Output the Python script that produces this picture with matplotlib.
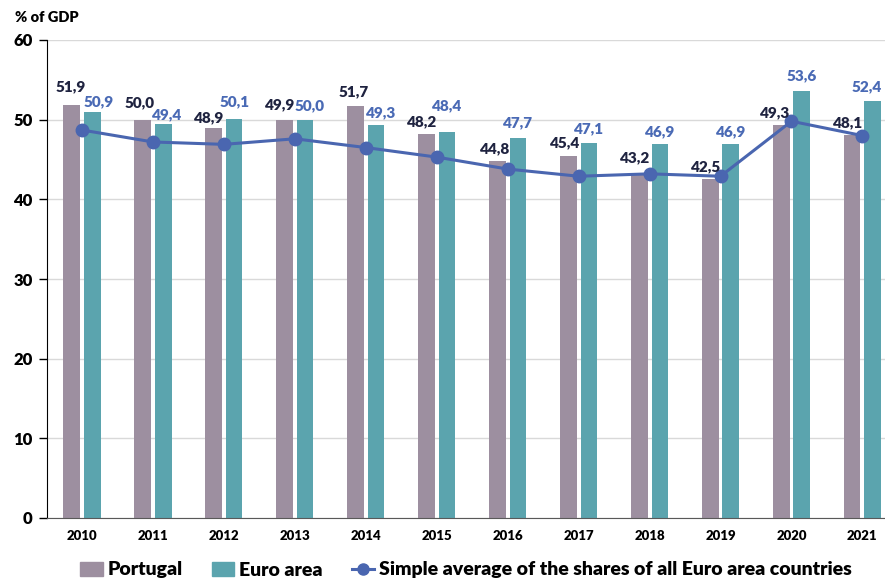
import matplotlib.pyplot as plt
import matplotlib.lines as mlines
import matplotlib.patches as mpatches
import numpy as np

plt.rcParams['font.family'] = ['Lato', 'DejaVu Sans']
plt.rcParams['font.weight'] = 'bold'

years = ['2010', '2011', '2012', '2013', '2014', '2015',
         '2016', '2017', '2018', '2019', '2020', '2021']
portugal = [51.9, 50.0, 48.9, 49.9, 51.7, 48.2, 44.8, 45.4, 43.2, 42.5, 49.3, 48.1]
euro_area = [50.9, 49.4, 50.1, 50.0, 49.3, 48.4, 47.7, 47.1, 46.9, 46.9, 53.6, 52.4]
simple_avg = [48.7, 47.2, 46.9, 47.6, 46.5, 45.3, 43.8, 42.9, 43.2, 42.9, 49.8, 48.0]

# label nudges in points, so value labels sit clear of each other and the line
pt_dx = [-0.5, -2, -3, -3.5, -1, -3, -2, -2, -3, -3, -4.5, -3]
pt_dy = [13, 12, 8, 11, 10, 9, 9, 10, 11.5, 9, 9, 9]
ea_dx = [4.5, 3, 0, 3.5, 3.5, 0, 0, 0, 0, 0, 0, -4]
ea_dy = [8, 7, 12, 10, 9, 19.5, 11, 10, 9, 9, 11, 10]

c_pt = '#9d8fa0'
c_ea = '#5ba4ae'
c_avg = '#4a66b0'
c_pt_lab = '#1f2340'
c_ea_lab = '#4a6ab5'

fig = plt.figure(figsize=(8.85, 5.8), dpi=100)
ax = fig.add_axes([46.5 / 885, 62 / 580, 851.4 / 885, 478 / 580])

x = np.arange(len(years))
w = 0.235
off = 0.145
ax.bar(x - off, portugal, w, color=c_pt, zorder=2)
ax.bar(x + off, euro_area, w, color=c_ea, zorder=2)
ax.plot(x, simple_avg, color=c_avg, lw=2.2, marker='o', ms=9, zorder=3)

for i in range(len(years)):
    ax.annotate(f'{portugal[i]:.1f}'.replace('.', ','), (x[i] - off, portugal[i]),
                xytext=(pt_dx[i], pt_dy[i]), textcoords='offset points',
                ha='center', va='center', fontsize=11, color=c_pt_lab, fontweight='heavy')
    ax.annotate(f'{euro_area[i]:.1f}'.replace('.', ','), (x[i] + off, euro_area[i]),
                xytext=(ea_dx[i], ea_dy[i]), textcoords='offset points',
                ha='center', va='center', fontsize=11, color=c_ea_lab, fontweight='heavy')

ax.set_xlim(-0.5, len(years) - 0.5)
ax.set_ylim(0, 60)
ax.set_yticks(range(0, 61, 10))
ax.set_xticks(x)
ax.set_xticklabels(years, fontsize=9.5, fontweight='heavy')
ax.tick_params(axis='x', length=0, pad=9)
ax.tick_params(axis='y', length=6, width=1, labelsize=12, pad=4)
for lab in ax.get_yticklabels():
    lab.set_fontweight('heavy')
ax.yaxis.grid(True, color='#d9d9d9', lw=1, zorder=0)
ax.set_axisbelow(True)
for s in ['top', 'right']:
    ax.spines[s].set_visible(False)
ax.spines['left'].set_color('black')
ax.spines['bottom'].set_color('#595959')

fig.text(15 / 885, 1 - 17 / 580, '% of GDP', fontsize=10.5, fontweight='heavy', va='center')

handles = [mpatches.Patch(color=c_pt, label='Portugal'),
           mpatches.Patch(color=c_ea, label='Euro area'),
           mlines.Line2D([], [], color=c_avg, lw=2.2, marker='o', ms=8,
                         label='Simple average of the shares of all Euro area countries')]
fig.legend(handles=handles, loc='center', bbox_to_anchor=(466 / 885, 10 / 580), ncol=3,
           frameon=False, prop={'size': 14, 'weight': 'heavy'},
           handlelength=1.15, handletextpad=0.25, columnspacing=1.5)

fig.savefig('out.png', dpi=100)
